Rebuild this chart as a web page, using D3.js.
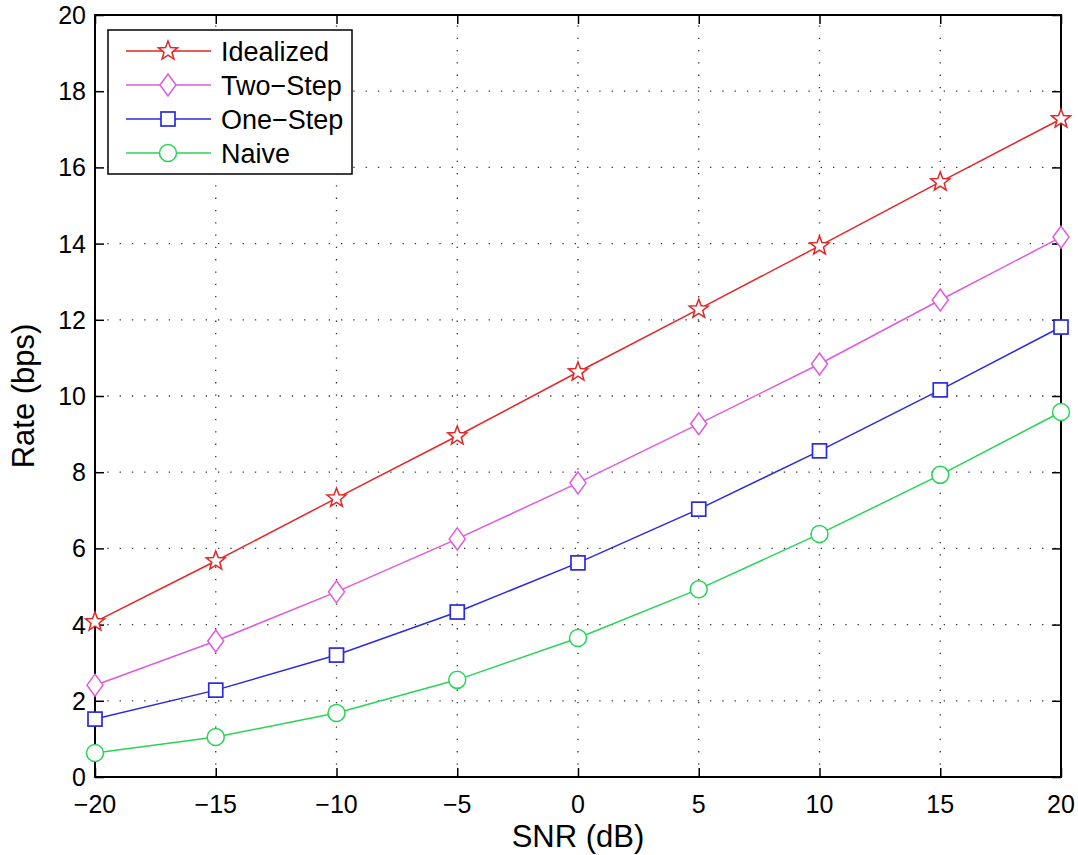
<!DOCTYPE html>
<html>
<head>
<meta charset="utf-8">
<script src="https://cdn.jsdelivr.net/npm/d3@7"></script>
<style>
  body { margin: 0; background: #fff; }
  text { font-family: "Liberation Sans", Arial, sans-serif; fill: #000; }
</style>
</head>
<body>
<svg id="chart" width="1078" height="855"></svg>
<script>
var svg = d3.select("#chart");

// data
var snr = [-20, -15, -10, -5, 0, 5, 10, 15, 20];
var idealized = [4.07, 5.67, 7.32, 8.95, 10.63, 12.28, 13.94, 15.62, 17.27];
var twoStep = [2.41, 3.57, 4.86, 6.25, 7.72, 9.27, 10.84, 12.52, 14.17];
var oneStep = [1.52, 2.28, 3.20, 4.33, 5.62, 7.03, 8.56, 10.16, 11.81];
var naive = [0.63, 1.05, 1.68, 2.55, 3.65, 4.93, 6.38, 7.93, 9.58];
var seriesNames = ["Idealized", "Two\u2212Step", "One\u2212Step", "Naive"];
var xTicks = [-20, -15, -10, -5, 0, 5, 10, 15, 20];
var yTicks = [0, 2, 4, 6, 8, 10, 12, 14, 16, 18, 20];

var series = [
  { name: seriesNames[0], values: idealized, color: "#e32626", marker: "star" },
  { name: seriesNames[1], values: twoStep, color: "#de5ade", marker: "diamond" },
  { name: seriesNames[2], values: oneStep, color: "#2a2ae0", marker: "square" },
  { name: seriesNames[3], values: naive, color: "#28d456", marker: "circle" }
];

// plot box (window.top is reserved, so plot* names)
var plotLeft = 95, plotRight = 1061, plotTop = 15, plotBottom = 777;

var x = d3.scaleLinear().domain([-20, 20]).range([plotLeft, plotRight]);
var y = d3.scaleLinear().domain([0, 20]).range([plotBottom, plotTop]);

var fmt = function (d) { return d < 0 ? "\u2212" + Math.abs(d) : String(d); };

// grid, dotted
var grid = svg.append("g");
xTicks.slice(1, -1).forEach(function (t) {
  grid.append("line")
    .attr("x1", x(t)).attr("x2", x(t))
    .attr("y1", plotBottom).attr("y2", plotTop)
    .attr("stroke", "#333").attr("stroke-width", 1.3)
    .attr("stroke-dasharray", "1.3,11");
});
yTicks.slice(1, -1).forEach(function (t) {
  grid.append("line")
    .attr("x1", plotLeft).attr("x2", plotRight)
    .attr("y1", y(t)).attr("y2", y(t))
    .attr("stroke", "#333").attr("stroke-width", 1.3)
    .attr("stroke-dasharray", "1.3,11");
});

// axes (ticks pointing inward, on all four sides)
var tickLen = 9;
function noDomain(g) { g.select(".domain").remove(); }
svg.append("g")
  .attr("transform", "translate(0," + plotBottom + ")")
  .call(d3.axisTop(x).tickValues(xTicks).tickSize(tickLen).tickFormat(""))
  .call(noDomain);
svg.append("g")
  .attr("transform", "translate(0," + plotTop + ")")
  .call(d3.axisBottom(x).tickValues(xTicks).tickSize(tickLen).tickFormat(""))
  .call(noDomain);
svg.append("g")
  .attr("transform", "translate(" + plotLeft + ",0)")
  .call(d3.axisRight(y).tickValues(yTicks).tickSize(tickLen).tickFormat(""))
  .call(noDomain);
svg.append("g")
  .attr("transform", "translate(" + plotRight + ",0)")
  .call(d3.axisLeft(y).tickValues(yTicks).tickSize(tickLen).tickFormat(""))
  .call(noDomain);
svg.selectAll(".tick line").attr("stroke", "#000").attr("stroke-width", 1.5);

svg.append("rect")
  .attr("x", plotLeft).attr("y", plotTop)
  .attr("width", plotRight - plotLeft).attr("height", plotBottom - plotTop)
  .attr("fill", "none").attr("stroke", "#000").attr("stroke-width", 2);

// tick labels
svg.selectAll(".xlab").data(xTicks).enter().append("text")
  .attr("x", function (d) { return x(d); })
  .attr("y", 813)
  .attr("text-anchor", "middle")
  .style("font-size", "25px")
  .text(fmt);
svg.selectAll(".ylab").data(yTicks).enter().append("text")
  .attr("x", plotLeft - 9)
  .attr("y", function (d) { return y(d) + 9; })
  .attr("text-anchor", "end")
  .style("font-size", "25px")
  .text(fmt);

// axis titles
svg.append("text")
  .attr("x", (plotLeft + plotRight) / 2).attr("y", 847)
  .attr("text-anchor", "middle")
  .style("font-size", "31px")
  .text("SNR (dB)");
svg.append("text")
  .attr("transform", "translate(34," + ((plotTop + plotBottom) / 2) + ")rotate(-90)")
  .attr("text-anchor", "middle")
  .style("font-size", "31px")
  .text("Rate (bps)");

function drawMarker(g, type, cx, cy, color) {
  if (type === "star") {
    var pts = [];
    for (var i = 0; i < 10; i++) {
      var r = i % 2 === 0 ? 10 : 4.2;
      var a = -Math.PI / 2 + i * Math.PI / 5;
      pts.push([cx + r * Math.cos(a), cy + r * Math.sin(a)]);
    }
    g.append("polygon").attr("points", pts.join(" "))
      .attr("fill", "#fff").attr("stroke", color).attr("stroke-width", 1.5);
  } else if (type === "diamond") {
    g.append("polygon")
      .attr("points", [[cx, cy - 11], [cx + 8, cy], [cx, cy + 11], [cx - 8, cy]].join(" "))
      .attr("fill", "#fff").attr("stroke", color).attr("stroke-width", 1.5);
  } else if (type === "square") {
    g.append("rect").attr("x", cx - 7).attr("y", cy - 7)
      .attr("width", 14).attr("height", 14)
      .attr("fill", "#fff").attr("stroke", color).attr("stroke-width", 1.7);
  } else {
    g.append("circle").attr("cx", cx).attr("cy", cy).attr("r", 8.5)
      .attr("fill", "#fff").attr("stroke", color).attr("stroke-width", 1.5);
  }
}

var line = d3.line()
  .x(function (d, i) { return x(snr[i]); })
  .y(function (d) { return y(d); });

series.forEach(function (s) {
  var g = svg.append("g");
  g.append("path").datum(s.values)
    .attr("d", line)
    .attr("fill", "none").attr("stroke", s.color).attr("stroke-width", 1.5);
  s.values.forEach(function (v, i) {
    drawMarker(g, s.marker, x(snr[i]), y(v), s.color);
  });
});

// legend
var legend = svg.append("g");
legend.append("rect")
  .attr("x", 108).attr("y", 30)
  .attr("width", 244).attr("height", 144)
  .attr("fill", "#fff").attr("stroke", "#000").attr("stroke-width", 1.5);
series.forEach(function (s, i) {
  var ly = 51 + i * 34;
  legend.append("line")
    .attr("x1", 126).attr("x2", 211).attr("y1", ly).attr("y2", ly)
    .attr("stroke", s.color).attr("stroke-width", 1.5);
  drawMarker(legend, s.marker, 168, ly, s.color);
  legend.append("text")
    .attr("x", 221).attr("y", ly + 10)
    .style("font-size", "27px")
    .text(s.name);
});
</script>
</body>
</html>
